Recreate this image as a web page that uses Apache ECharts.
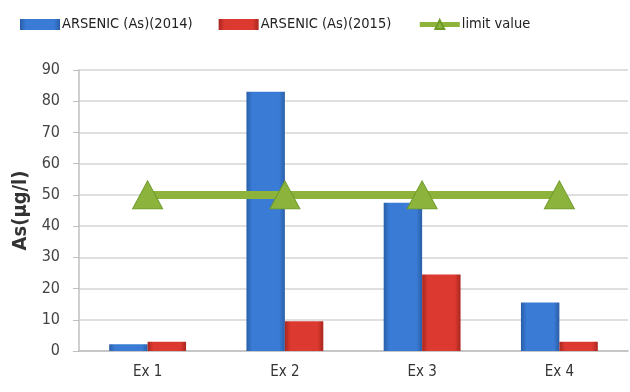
<!DOCTYPE html>
<html>
<head>
<meta charset="utf-8">
<script src="https://cdn.jsdelivr.net/npm/echarts@6/dist/echarts.min.js"></script>
<style>
  html, body { margin: 0; padding: 0; background: #fff; }
  #chart { width: 630px; height: 392px; }
</style>
</head>
<body>
<div id="chart"></div>
<script>
// Arsenic concentration per sampling point, two years, against the limit value
const categories = ['Ex 1', 'Ex 2', 'Ex 3', 'Ex 4'];
const arsenic2014 = [2.2, 83, 47.5, 15.5];
const arsenic2015 = [3, 9.5, 24.5, 3];
const limitValue = [50, 50, 50, 50];

const FONT = '"DejaVu Sans Condensed", "Liberation Sans Narrow", sans-serif';

function barGradient(dark, mid) {
  return new echarts.graphic.LinearGradient(0, 0, 1, 0, [
    { offset: 0, color: dark },
    { offset: 0.15, color: mid },
    { offset: 0.85, color: mid },
    { offset: 1, color: dark }
  ]);
}

const chart = echarts.init(document.getElementById('chart'));
chart.setOption({
  animation: false,
  backgroundColor: '#ffffff',
  legend: {
    top: 12,
    left: 15,
    itemGap: 26,
    itemWidth: 40,
    itemHeight: 11,
    textStyle: { fontFamily: FONT, fontSize: 14.5, color: '#222', padding: [0, 0, 0, -3] },
    data: [
      { name: 'ARSENIC (As)(2014)', icon: 'rect' },
      { name: 'ARSENIC (As)(2015)', icon: 'rect' },
      { name: 'limit value', lineStyle: { width: 5 } }
    ]
  },
  grid: { left: 79, right: 2, top: 70, bottom: 41 },
  xAxis: {
    type: 'category',
    data: categories,
    axisTick: { show: false },
    axisLine: { lineStyle: { color: '#bfbfbf', width: 1.5 } },
    axisLabel: { fontFamily: FONT, fontSize: 15, color: '#333', margin: 14 }
  },
  yAxis: {
    type: 'value',
    min: 0,
    max: 90,
    interval: 10,
    name: 'As(µg/l)',
    nameLocation: 'middle',
    nameGap: 48,
    nameTextStyle: { fontFamily: FONT, fontSize: 20, fontWeight: 'bold', color: '#333' },
    axisLine: { show: true, lineStyle: { color: '#bfbfbf', width: 1.5 } },
    axisTick: { show: true, length: 6, lineStyle: { color: '#bfbfbf' } },
    axisLabel: { fontFamily: FONT, fontSize: 16, color: '#444', margin: 19 },
    splitLine: { lineStyle: { color: '#d4d4d4', width: 1.5 } }
  },
  series: [
    {
      name: 'ARSENIC (As)(2014)',
      type: 'bar',
      data: arsenic2014,
      barGap: '0%',
      barCategoryGap: '44%',
      itemStyle: { color: barGradient('#2a5fa8', '#3a7bd5') }
    },
    {
      name: 'ARSENIC (As)(2015)',
      type: 'bar',
      data: arsenic2015,
      itemStyle: { color: barGradient('#a8261f', '#dc3a30') }
    },
    {
      name: 'limit value',
      type: 'line',
      data: limitValue,
      symbol: 'triangle',
      symbolSize: [30, 28],
      lineStyle: { color: '#8db33a', width: 8 },
      itemStyle: { color: '#8cb43c', borderColor: '#6f9a2a', borderWidth: 1 },
      z: 5
    }
  ]
});
</script>
</body>
</html>
